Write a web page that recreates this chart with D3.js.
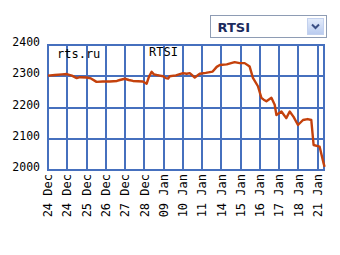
<!DOCTYPE html>
<html>
<head>
<meta charset="utf-8">
<script src="https://cdn.jsdelivr.net/npm/d3@7"></script>
<style>
    body { margin: 0; background: #fff; }
    svg text { font-family: "DejaVu Sans Mono", "Liberation Mono", monospace; fill: #000; }
    .grid line { stroke: #4670be; stroke-width: 1.5px; shape-rendering: crispEdges; }
    .frame { fill: none; stroke: #4670be; stroke-width: 1.5px; shape-rendering: crispEdges; }
    .line { fill: none; stroke: #c4410c; stroke-width: 2.4px; stroke-linejoin: round; }
    .selectbox { fill: #fff; stroke: #8e9cb4; stroke-width: 1px; shape-rendering: crispEdges; }
    .select-label { font-family: Verdana, "DejaVu Sans", sans-serif; font-weight: bold; fill: #1c2b5e; }
</style>
</head>
<body>
<script>

// trading day labels, one per tick
var dayLabels = ["24 Dec", "24 Dec", "25 Dec", "26 Dec", "27 Dec", "28 Dec", "09 Jan",
                 "10 Jan", "11 Jan", "14 Jan", "15 Jan", "16 Jan", "17 Jan", "18 Jan", "21 Jan"];

var yTicks = [2000, 2100, 2200, 2300, 2400];

// position of each quote along the day ticks (0 = first tick)
var quoteT = [0, 0.36, 0.73, 0.97, 1.24, 1.49, 1.66, 2.0, 2.23, 2.52, 2.85, 3.21, 3.58, 3.73,
              3.99, 4.2, 4.41, 4.67, 4.92, 5.12, 5.24, 5.38, 5.5, 5.64, 5.81, 5.98, 6.12, 6.24,
              6.32, 6.64, 7.01, 7.2, 7.36, 7.62, 7.88, 8.19, 8.55, 8.76, 8.92, 9.28, 9.69, 9.95,
              10.21, 10.47, 10.64, 10.9, 11.08, 11.2, 11.34, 11.6, 11.77, 11.86, 12.12, 12.37,
              12.55, 12.75, 12.98, 13.24, 13.48, 13.67, 13.79, 14.1, 14.31, 14.36];

var quoteValue = [2302, 2304, 2306, 2307, 2302, 2294, 2297, 2296, 2293, 2282, 2283, 2283, 2285, 2288,
                  2292, 2288, 2285, 2284, 2283, 2276, 2298, 2314, 2306, 2304, 2302, 2300, 2294, 2293,
                  2300, 2303, 2310, 2308, 2310, 2296, 2308, 2311, 2315, 2330, 2336, 2338, 2345, 2342,
                  2342, 2331, 2295, 2268, 2231, 2225, 2220, 2231, 2209, 2176, 2187, 2166,
                  2187, 2170, 2144, 2160, 2163, 2160, 2080, 2075, 2021, 2010];

var width = 340
    , height = 255
    , margin = {left: 48, top: 45, right: 16, bottom: 85}
    , tMax = 14.33
    ;

var svg = d3.select("body")
    .append("svg")
    .attr("width", width)
    .attr("height", height);

var w = width - margin.left - margin.right
    , h = height - margin.top - margin.bottom
    , g = svg.append("g").attr("transform", "translate(" + margin.left + "," + margin.top + ")");

var x = d3.scaleLinear()
    .domain([0, tMax])
    .range([0, w]);

var y = d3.scaleLinear()
    .domain([2000, 2400])
    .range([h, 0]);

var data = quoteT.map(function(t, i) { return {t: t, value: quoteValue[i]}; });

// grid
var grid = g.append("g").attr("class", "grid");

grid.selectAll("line.v")
    .data(dayLabels)
    .enter().append("line")
    .attr("class", "v")
    .attr("x1", function(d, i) { return Math.round(x(i)); })
    .attr("x2", function(d, i) { return Math.round(x(i)); })
    .attr("y1", 0)
    .attr("y2", h);

grid.selectAll("line.h")
    .data(yTicks)
    .enter().append("line")
    .attr("class", "h")
    .attr("x1", 0)
    .attr("x2", w)
    .attr("y1", function(d) { return Math.round(y(d)); })
    .attr("y2", function(d) { return Math.round(y(d)); });

g.append("rect")
    .attr("class", "frame")
    .attr("x", 0)
    .attr("y", 0)
    .attr("width", w)
    .attr("height", h);

// watermarks
g.append("text")
    .attr("x", 9)
    .attr("y", 13)
    .style("font-size", "12px")
    .text("rts.ru");

g.append("text")
    .attr("x", 101)
    .attr("y", 11)
    .style("font-size", "12px")
    .text("RTSI");

// price line
var line = d3.line()
    .x(function(d) { return x(d.t); })
    .y(function(d) { return y(d.value); });

g.append("path")
    .datum(data)
    .attr("class", "line")
    .attr("d", line);

// y labels
g.selectAll("text.ylab")
    .data(yTicks)
    .enter().append("text")
    .attr("class", "ylab")
    .attr("x", -8)
    .attr("y", function(d) { return y(d); })
    .attr("dy", "0.1em")
    .attr("text-anchor", "end")
    .style("font-size", "11.5px")
    .text(function(d) { return d; });

// x labels, rotated
g.selectAll("text.xlab")
    .data(dayLabels)
    .enter().append("text")
    .attr("class", "xlab")
    .attr("transform", function(d, i) { return "translate(" + x(i) + "," + (h + 4) + ") rotate(-90)"; })
    .attr("text-anchor", "end")
    .attr("dy", "0.35em")
    .style("font-size", "12px")
    .text(function(d) { return d; });

// index selector box
var sel = svg.append("g").attr("transform", "translate(210.5,15.5)");

sel.append("rect")
    .attr("class", "selectbox")
    .attr("width", 116)
    .attr("height", 22);

sel.append("text")
    .attr("class", "select-label")
    .attr("x", 7)
    .attr("y", 16)
    .style("font-size", "13px")
    .text("RTSI");

var grad = svg.append("defs").append("linearGradient")
    .attr("id", "btn")
    .attr("x1", 0).attr("y1", 0).attr("x2", 0).attr("y2", 1);
grad.append("stop").attr("offset", "0%").attr("stop-color", "#e4ecfb");
grad.append("stop").attr("offset", "100%").attr("stop-color", "#b9cbef");

sel.append("rect")
    .attr("x", 97)
    .attr("y", 3)
    .attr("width", 16)
    .attr("height", 16)
    .attr("fill", "url(#btn)")
    .attr("stroke", "#c3d1ee");

sel.append("path")
    .attr("d", "M 101.5 9 L 105 12.5 L 108.5 9")
    .attr("fill", "none")
    .attr("stroke", "#3b4f84")
    .attr("stroke-width", 2);

</script>
</body>
</html>
